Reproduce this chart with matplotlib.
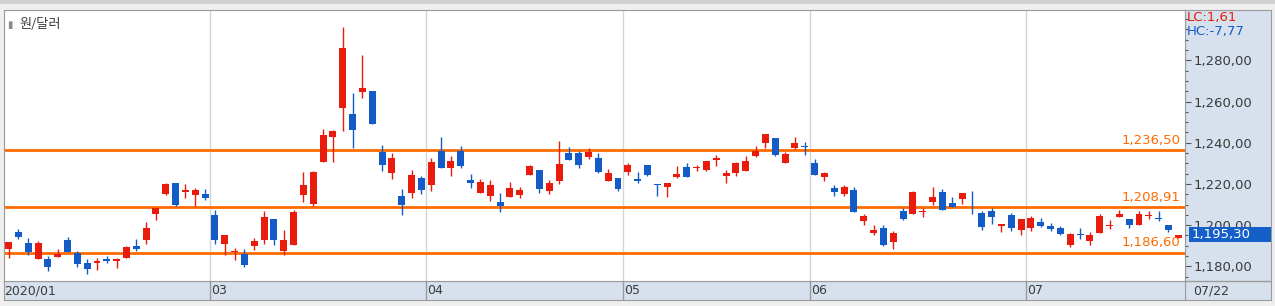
import numpy as np
import matplotlib.pyplot as plt
from matplotlib.patches import Rectangle

# daily candles, 2020-01 (mid) .. 07/22
opens = [1188.3, 1196.8, 1191.5, 1183.4, 1183.7, 1184.4, 1192.9, 1186.6, 1181.8, 1181.5,
         1183.7, 1182.4, 1183.9, 1190.0, 1192.6, 1205.2, 1215.2, 1220.5, 1216.1, 1214.7,
         1215.2, 1205.0, 1191.0, 1187.0, 1186.1, 1190.0, 1192.6, 1203.1, 1187.7, 1190.2,
         1214.8, 1210.5, 1230.8, 1242.9, 1256.9, 1253.9, 1264.7, 1265.0, 1235.5, 1225.5,
         1214.2, 1215.8, 1222.9, 1219.7, 1236.0, 1227.9, 1236.0, 1221.9, 1215.8, 1214.4,
         1211.3, 1213.9, 1214.8, 1224.5, 1226.8, 1216.8, 1221.6, 1235.0, 1235.0, 1233.2,
         1232.6, 1221.6, 1222.9, 1226.0, 1222.4, 1229.2, 1220.2, 1218.7, 1223.5, 1228.2,
         1227.7, 1226.9, 1231.8, 1224.0, 1225.5, 1226.4, 1233.7, 1240.0, 1242.3, 1230.3,
         1237.6, 1238.4, 1230.2, 1223.5, 1218.1, 1215.3, 1217.1, 1201.8, 1196.4, 1198.7,
         1191.6, 1206.9, 1205.6, 1206.6, 1211.3, 1216.1, 1210.8, 1212.8, 1209.0, 1206.0,
         1206.9, 1199.8, 1205.0, 1197.9, 1198.4, 1201.6, 1199.7, 1198.7, 1190.6, 1195.8,
         1192.1, 1196.4, 1199.8, 1204.0, 1203.1, 1200.3, 1204.5, 1203.6, 1200.2, 1193.7]
highs = [1192.0, 1198.2, 1193.7, 1192.4, 1185.2, 1188.6, 1194.4, 1187.6, 1183.7, 1184.2,
         1185.2, 1184.2, 1190.0, 1193.4, 1201.6, 1208.5, 1220.5, 1220.5, 1220.0, 1218.1,
         1217.6, 1207.4, 1195.3, 1189.0, 1188.6, 1193.9, 1206.9, 1203.1, 1197.8, 1207.4,
         1225.8, 1226.3, 1246.8, 1246.1, 1296.0, 1264.0, 1282.4, 1265.0, 1238.9, 1235.0,
         1217.6, 1226.8, 1223.9, 1232.6, 1242.7, 1233.6, 1238.4, 1224.8, 1222.4, 1221.9,
         1215.7, 1221.0, 1218.6, 1229.2, 1226.8, 1221.9, 1240.8, 1237.9, 1236.0, 1237.4,
         1235.0, 1227.3, 1222.9, 1230.2, 1225.8, 1229.2, 1220.2, 1220.5, 1228.7, 1230.2,
         1229.2, 1231.1, 1234.0, 1226.8, 1230.7, 1233.6, 1238.4, 1244.2, 1242.3, 1235.5,
         1242.7, 1240.3, 1232.1, 1225.8, 1219.5, 1219.5, 1218.6, 1205.5, 1200.2, 1200.2,
         1197.3, 1208.4, 1216.6, 1208.4, 1218.6, 1217.6, 1213.7, 1215.7, 1216.6, 1206.9,
         1208.4, 1200.7, 1206.0, 1203.1, 1204.5, 1203.6, 1201.1, 1199.7, 1196.3, 1198.4,
         1196.8, 1205.5, 1202.6, 1207.4, 1203.1, 1206.9, 1206.9, 1206.9, 1200.2, 1195.3]
lows = [1183.9, 1193.1, 1185.3, 1183.4, 1177.6, 1184.4, 1187.1, 1179.9, 1176.1, 1178.1,
        1181.5, 1179.0, 1183.9, 1187.7, 1191.0, 1202.6, 1214.7, 1209.5, 1213.2, 1209.4,
        1212.4, 1191.0, 1185.7, 1183.2, 1179.5, 1188.1, 1191.0, 1190.5, 1185.7, 1190.2,
        1211.4, 1209.5, 1230.8, 1230.8, 1245.8, 1237.6, 1261.8, 1249.2, 1226.4, 1222.6,
        1204.7, 1213.4, 1215.3, 1216.8, 1227.9, 1224.0, 1227.9, 1218.2, 1215.8, 1211.9,
        1206.6, 1213.9, 1213.4, 1224.5, 1215.8, 1215.3, 1220.2, 1231.8, 1227.9, 1232.3,
        1225.5, 1221.6, 1216.8, 1224.5, 1220.6, 1224.0, 1214.4, 1213.9, 1223.0, 1223.5,
        1226.3, 1226.4, 1228.9, 1220.6, 1224.0, 1226.4, 1233.2, 1237.6, 1233.7, 1230.3,
        1237.0, 1234.2, 1224.5, 1221.6, 1214.4, 1214.4, 1206.6, 1200.3, 1195.0, 1189.7,
        1188.2, 1202.7, 1205.6, 1204.2, 1209.9, 1207.6, 1208.9, 1210.3, 1205.6, 1197.9,
        1200.8, 1196.9, 1197.4, 1195.0, 1197.4, 1198.9, 1197.4, 1195.0, 1189.2, 1193.1,
        1190.6, 1196.4, 1198.2, 1204.0, 1198.4, 1200.3, 1203.1, 1201.8, 1196.9, 1193.7]
closes = [1192.0, 1194.5, 1187.0, 1191.5, 1179.5, 1186.0, 1187.1, 1181.0, 1178.9, 1182.8,
          1182.4, 1183.7, 1189.5, 1188.6, 1198.7, 1208.5, 1220.0, 1210.0, 1217.1, 1217.1,
          1213.4, 1192.9, 1195.3, 1187.6, 1180.8, 1192.4, 1204.0, 1192.6, 1192.9, 1206.5,
          1219.5, 1225.8, 1243.7, 1245.7, 1285.8, 1246.3, 1266.5, 1249.2, 1229.3, 1232.6,
          1210.0, 1224.4, 1217.3, 1230.7, 1227.9, 1231.1, 1228.9, 1220.6, 1221.0, 1219.5,
          1209.5, 1218.1, 1217.1, 1228.7, 1217.7, 1220.5, 1229.7, 1231.8, 1229.3, 1235.5,
          1226.0, 1225.3, 1217.7, 1229.2, 1221.6, 1224.5, 1219.7, 1220.5, 1224.8, 1223.5,
          1228.2, 1231.1, 1232.6, 1225.3, 1230.2, 1231.1, 1236.0, 1244.2, 1234.2, 1234.5,
          1239.8, 1237.9, 1224.5, 1225.3, 1216.3, 1218.6, 1206.6, 1204.5, 1197.8, 1190.6,
          1196.3, 1203.2, 1216.1, 1207.1, 1213.7, 1207.6, 1208.9, 1215.7, 1209.0, 1198.9,
          1204.2, 1200.7, 1198.4, 1203.1, 1203.6, 1199.8, 1198.2, 1195.5, 1195.8, 1195.0,
          1195.3, 1204.5, 1200.3, 1205.5, 1200.3, 1205.5, 1205.0, 1202.9, 1197.8, 1195.3]

month_starts = [21, 43, 63, 82, 104]
month_labels = ['03', '04', '05', '06', '07']
levels = [1236.50, 1208.91, 1186.60]
level_labels = ['1,236,50', '1,208,91', '1,186,60']
yticks = [1180, 1200, 1220, 1240, 1260, 1280]
ytick_labels = ['1,180,00', '1,200,00', '1,220,00', '1,240,00', '1,260,00', '1,280,00']
last_price = '1,195,30'
last_date = '07/22'

W, H = 1275, 306
RED = '#e81b0c'
BLUE = '#135cc8'
ORANGE = '#ff6a00'
PANEL = '#d7e1ee'
TXT = '#3a3a3a'


def fx(px):
    return px / W


def fy(py):
    return 1 - py / H


fig = plt.figure(figsize=(W / 100, H / 100), dpi=100, facecolor='#efefef')
fig.patches.append(Rectangle((0, fy(4)), 1, 4 / H, transform=fig.transFigure,
                             facecolor='#d2d2d2', edgecolor='none'))

# right price panel
pan = fig.add_axes([fx(1185), fy(300), (1271 - 1185) / W, (300 - 9.5) / H], zorder=0)
pan.set_facecolor(PANEL)
pan.set_xticks([])
pan.set_yticks([])
for s in pan.spines.values():
    s.set_color('#9a9a9a')
pan.axhline((300 - 281) / (300 - 9.5), color='#9a9a9a', lw=1)
pan.text(0.09, (300 - 291) / (300 - 9.5), last_date, transform=pan.transAxes,
         fontsize=9, color=TXT, va='center', ha='left')

# date band
band = fig.add_axes([fx(4), fy(300), (1185 - 4) / W, 19 / H], zorder=1)
band.set_facecolor(PANEL)
band.set_xlim(-0.46, 119.68)
band.set_ylim(0, 1)
band.set_xticks([])
band.set_yticks([])
for s in band.spines.values():
    s.set_color('#9a9a9a')
band.text(-0.4, 0.48, '2020/01', fontsize=9, color=TXT, va='center', ha='left')
for m, lab in zip(month_starts, month_labels):
    band.axvline(m - 0.5, color='#9a9a9a', lw=1)
    band.text(m - 0.4, 0.48, lab, fontsize=9, color=TXT, va='center', ha='left')

# main chart
ax = fig.add_axes([fx(4), fy(281), (1185 - 4) / W, (281 - 9.5) / H], zorder=2)
ax.set_facecolor('white')
x = np.arange(len(opens))
o = np.array(opens)
c = np.array(closes)
cols = [RED if cc > oo else BLUE for oo, cc in zip(o, c)]

for m in month_starts:
    ax.axvline(m - 0.5, color='#d4d4d4', lw=1, zorder=0)
for lv, lab in zip(levels, level_labels):
    ax.axhline(lv, color=ORANGE, lw=2, zorder=1)
    ax.text(119.2, lv + 1.6, lab, color=ORANGE, fontsize=9.5, ha='right', va='bottom', zorder=4)

ax.vlines(x, lows, highs, colors=cols, lw=1, zorder=2)
ax.bar(x, c - o, bottom=o, width=0.71, color=cols, linewidth=0, zorder=3)

ax.set_xlim(-0.46, 119.68)
ax.set_ylim(1172.9, 1304.7)
ax.set_xticks([])
ax.yaxis.tick_right()
ax.set_yticks(yticks)
ax.set_yticklabels(ytick_labels)
ax.set_yticks(np.arange(1175, 1305, 5), minor=True)
ax.tick_params(axis='y', which='major', length=4, width=0.8, color='#555555',
               labelsize=9.5, labelcolor=TXT, pad=2)
ax.tick_params(axis='y', which='minor', length=2.2, width=0.8, color='#555555')
for s in ax.spines.values():
    s.set_color('#9a9a9a')

ax.text(-0.15, 1297, '\u25ae', fontsize=7, color='#8a8a8a', va='center', ha='left')
ax.text(1.1, 1297.5, '원/달러', fontsize=9.5, color=TXT, va='center', ha='left',
        family=['Noto Sans CJK KR', 'DejaVu Sans'])

# last price tag and LC/HC
fig.patches.append(Rectangle((fx(1189), fy(242)), 82 / W, 15 / H, transform=fig.transFigure,
                             facecolor='#1560c8', edgecolor='none', zorder=5))
fig.text(fx(1192), fy(234.5), last_price, color='white', fontsize=9.5, va='center', ha='left', zorder=6)
fig.text(fx(1187), fy(18), 'LC:1,61', color=RED, fontsize=9.5, va='center', ha='left')
fig.text(fx(1187), fy(32), 'HC:-7,77', color=BLUE, fontsize=9.5, va='center', ha='left')

fig.savefig('out.png', dpi=100, facecolor=fig.get_facecolor())
